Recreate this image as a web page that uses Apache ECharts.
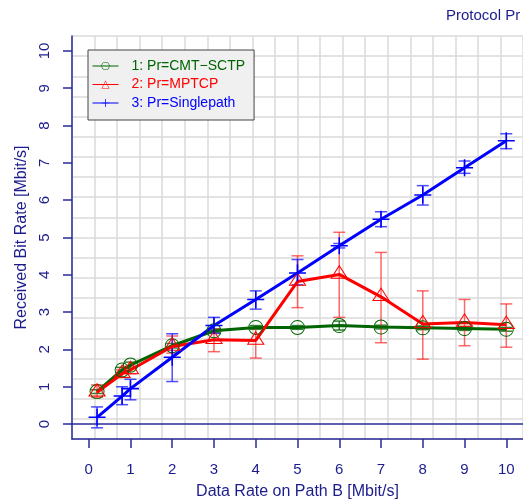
<!DOCTYPE html>
<html>
<head>
<meta charset="utf-8">
<script src="https://cdn.jsdelivr.net/npm/echarts@6/dist/echarts.min.js"></script>
<style>
    html, body { margin: 0; padding: 0; background: #fff; }
    #chart { width: 523px; height: 501px; }
</style>
</head>
<body>
<div id="chart"></div>
<script>
// data rate on path B
const xValues = [0.2, 0.8, 1, 2, 3, 4, 5, 6, 7, 8, 9, 10];

// 1: CMT-SCTP
const cmtMean = [0.87, 1.45, 1.58, 2.10, 2.50, 2.59, 2.59, 2.64, 2.60, 2.58, 2.56, 2.54];
const cmtLow = [0.82, 1.38, 1.50, 2.04, 2.45, 2.54, 2.54, 2.52, 2.55, 2.53, 2.51, 2.49];
const cmtHigh = [0.92, 1.52, 1.66, 2.16, 2.55, 2.64, 2.64, 2.76, 2.65, 2.63, 2.61, 2.59];

// 2: MPTCP
const mptcpMean = [0.85, 1.35, 1.45, 2.08, 2.26, 2.24, 3.82, 4.01, 3.41, 2.68, 2.72, 2.66];
const mptcpLow = [0.72, 1.25, 1.35, 1.90, 1.94, 1.77, 3.12, 2.86, 2.18, 1.74, 2.10, 2.06];
const mptcpHigh = [1.05, 1.45, 1.55, 2.36, 2.55, 2.58, 4.51, 5.14, 4.60, 3.57, 3.34, 3.22];

// 3: Singlepath
const singleMean = [0.18, 0.75, 0.95, 1.79, 2.64, 3.34, 4.05, 4.78, 5.49, 6.14, 6.87, 7.59];
const singleLow = [-0.10, 0.52, 0.65, 1.14, 2.43, 3.08, 3.73, 4.72, 5.29, 5.87, 6.72, 7.38];
const singleHigh = [0.46, 1.00, 1.20, 2.42, 2.86, 3.57, 4.41, 4.84, 5.69, 6.39, 7.05, 7.78];

const tickValues = [0, 1, 2, 3, 4, 5, 6, 7, 8, 9, 10];

const navy = "#1c1c8c";
const axisColor = "#2a2a9a";
const gridColor = "#dadada";
const fontFamily = "Liberation Sans, Arial, Helvetica, sans-serif";

const ringPath = "path://M10,0A10,10,0,1,1,10,20A10,10,0,1,1,10,0Z M10,1.3A8.7,8.7,0,1,0,10,18.7A8.7,8.7,0,1,0,10,1.3Z";
const trianglePath = "path://M10,0L20,17.32L0,17.32Z M10,2.4L2.08,16.12L17.92,16.12Z";
const plusPath = "path://M0,9.1H20V10.9H0Z M9.1,0H10.9V20H9.1Z";

const toPairs = ys => xValues.map((x, i) => [x, ys[i]]);
const toBars = (lo, hi) => xValues.map((x, i) => [x, lo[i], hi[i]]);

const errorBarItem = color => (params, api) => {
    const x = api.value(0);
    const lo = api.coord([x, api.value(1)]);
    const hi = api.coord([x, api.value(2)]);
    const half = 6;
    const style = { stroke: color, lineWidth: 1.5, fill: null };
    return {
        type: "group",
        children: [
            { type: "line", shape: { x1: lo[0], y1: lo[1], x2: hi[0], y2: hi[1] }, style: style },
            { type: "line", shape: { x1: lo[0] - half, y1: lo[1], x2: lo[0] + half, y2: lo[1] }, style: style },
            { type: "line", shape: { x1: hi[0] - half, y1: hi[1], x2: hi[0] + half, y2: hi[1] }, style: style }
        ]
    };
};

const lineSeries = (name, color, ys, symbol, size, offset) => ({
    name: name,
    type: "line",
    data: toPairs(ys),
    xAxisIndex: 0,
    yAxisIndex: 0,
    symbol: symbol,
    symbolSize: size,
    symbolKeepAspect: true,
    symbolOffset: offset,
    showAllSymbol: true,
    lineStyle: { color: color, width: 3 },
    itemStyle: { color: color },
    emphasis: { disabled: true },
    animation: false
});

const errorSeries = (color, lo, hi) => ({
    type: "custom",
    xAxisIndex: 0,
    yAxisIndex: 0,
    data: toBars(lo, hi),
    encode: { x: 0, y: [1, 2] },
    renderItem: errorBarItem(color),
    silent: true,
    animation: false
});

const chart = echarts.init(document.getElementById("chart"));

const option = {
    animation: false,
    textStyle: { fontFamily: fontFamily },
    title: {
        text: "Protocol Pr",
        left: 446,
        top: 8,
        padding: 0,
        textStyle: { color: navy, fontSize: 15, fontWeight: "normal", fontFamily: fontFamily }
    },
    legend: {
        orient: "vertical",
        left: 88,
        top: 50,
        padding: [9, 9, 10, 4],
        itemGap: 4.5,
        itemWidth: 26,
        itemHeight: 10,
        lineStyle: { width: 1 },
        backgroundColor: "#f0f0f0",
        borderColor: "#444",
        borderWidth: 1,
        borderRadius: 0,
        selectedMode: false,
        textStyle: { fontSize: 14, lineHeight: 14, fontFamily: fontFamily, padding: [0, 0, 0, 8] },
        data: [
            { name: "1: Pr=CMT\u2212SCTP", textStyle: { color: "#006400" } },
            { name: "2: Pr=MPTCP", textStyle: { color: "#ff0000" } },
            { name: "3: Pr=Singlepath", textStyle: { color: "#0000ff" } }
        ]
    },
    grid: { left: 72, top: 36, right: 0, bottom: 62, outerBoundsMode: "none", containLabel: false },
    xAxis: [
        {
            type: "value",
            min: -0.4,
            max: 10.4,
            position: "bottom",
            name: "Data Rate on Path B [Mbit/s]",
            nameLocation: "middle",
            nameGap: 45,
            nameTextStyle: { color: navy, fontSize: 16, fontFamily: fontFamily },
            axisLine: { show: true, onZero: false, lineStyle: { color: axisColor, width: 1.5 } },
            axisTick: { show: true, inside: false, length: 9, customValues: tickValues, lineStyle: { color: axisColor, width: 1.5 } },
            axisLabel: { customValues: tickValues, color: navy, fontSize: 15, margin: 23, fontFamily: fontFamily },
            splitLine: { show: false }
        },
        {
            type: "value",
            min: 0,
            max: 20,
            interval: 1,
            position: "top",
            axisLine: { show: true, lineStyle: { color: axisColor, width: 1.5 } },
            axisTick: { show: false },
            axisLabel: { show: false },
            splitLine: { show: true, lineStyle: { color: gridColor, width: 1.5 } }
        }
    ],
    yAxis: [
        {
            type: "value",
            min: -0.4,
            max: 10.4,
            position: "left",
            name: "Received Bit Rate [Mbit/s]",
            nameLocation: "middle",
            nameRotate: 90,
            nameGap: 41,
            nameTextStyle: { color: navy, fontSize: 16, fontFamily: fontFamily },
            axisLine: { show: true, onZero: false, lineStyle: { color: axisColor, width: 1.5 } },
            axisTick: { show: true, inside: false, length: 9, customValues: tickValues, lineStyle: { color: axisColor, width: 1.5 } },
            axisLabel: { customValues: tickValues, rotate: 90, color: navy, fontSize: 15, margin: 20, fontFamily: fontFamily },
            splitLine: { show: false }
        },
        {
            type: "value",
            min: 0,
            max: 20,
            interval: 1,
            position: "right",
            axisLine: { show: false },
            axisTick: { show: false },
            axisLabel: { show: false },
            splitLine: { show: true, lineStyle: { color: gridColor, width: 1.5 } }
        }
    ],
    series: [
        lineSeries("1: Pr=CMT\u2212SCTP", "#006400", cmtMean, ringPath, 15, [0, 0]),
        errorSeries("rgba(0,100,0,0.8)", cmtLow, cmtHigh),
        lineSeries("2: Pr=MPTCP", "#ff0000", mptcpMean, trianglePath, [18, 16], [0, -2.7]),
        errorSeries("rgba(255,40,40,0.7)", mptcpLow, mptcpHigh),
        lineSeries("3: Pr=Singlepath", "#0000ff", singleMean, plusPath, 17, [0, 0]),
        errorSeries("rgba(20,20,255,0.75)", singleLow, singleHigh)
    ]
};

chart.setOption(option);
</script>
</body>
</html>
